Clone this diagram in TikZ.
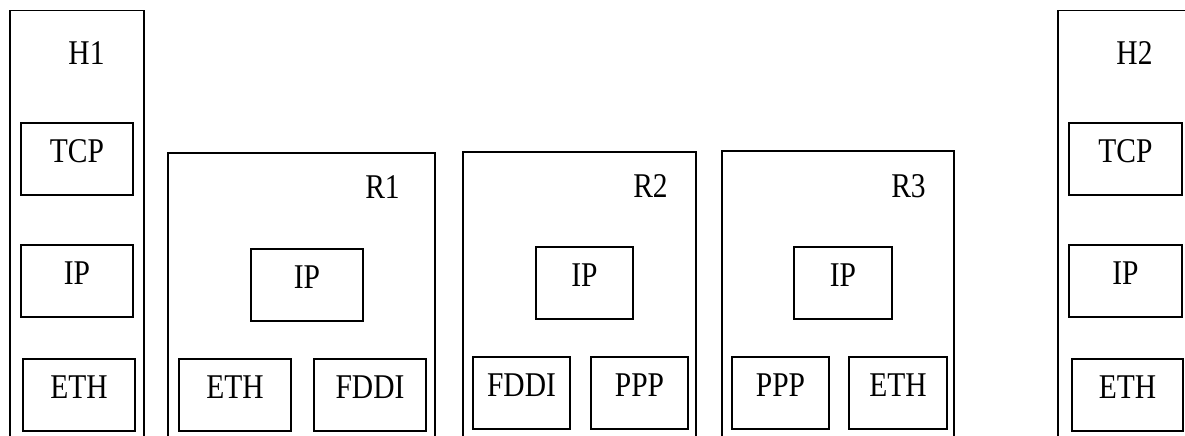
\documentclass[tikz,border=0pt]{standalone}
\usepackage{fontspec}
\newfontfamily\diagfont[FakeStretch=0.85]{Liberation Serif}
\begin{document}
\begin{tikzpicture}[x=1pt,y=-1pt,
  outer/.style={line width=1.4pt},
  box/.style={draw,line width=1.4pt,rectangle,inner sep=0pt,minimum height=72pt,
    text height=23pt,text depth=16pt,font=\diagfont\fontsize{34.7}{40}\selectfont},
  lbl/.style={inner sep=0pt,anchor=base,font=\diagfont\fontsize{34.7}{40}\selectfont}]
\useasboundingbox (0,0) rectangle (1185,436);
\clip (0,0) rectangle (1185,436);
% H1
\coordinate (h1a) at (10,437); \coordinate (h1b) at (10,10.5);
\coordinate (h1c) at (144,10.5); \coordinate (h1d) at (144,437);
\draw[outer] (h1a) -- (h1b) -- (h1c) -- (h1d);
\node[lbl] (h1) at (86.5,65) {H1};
\node[box,minimum width=112pt] (h1tcp) at (77,159) {TCP};
\node[box,minimum width=112pt] (h1ip) at (77,281) {IP};
\node[box,minimum width=112pt] (h1eth) at (79,395) {ETH};
% R1
\coordinate (r1a) at (168,437); \coordinate (r1b) at (168,153);
\coordinate (r1c) at (435,153); \coordinate (r1d) at (435,437);
\draw[outer] (r1a) -- (r1b) -- (r1c) -- (r1d);
\node[lbl] (r1) at (382.5,198) {R1};
\node[box,minimum width=112pt] (r1ip) at (307,285) {IP};
\node[box,minimum width=112pt] (r1eth) at (235,395) {ETH};
\node[box,minimum width=112pt] (r1fddi) at (370,395) {FDDI};
% R2
\coordinate (r2a) at (463,437); \coordinate (r2b) at (463,152);
\coordinate (r2c) at (696,152); \coordinate (r2d) at (696,437);
\draw[outer] (r2a) -- (r2b) -- (r2c) -- (r2d);
\node[lbl] (r2) at (650.5,197) {R2};
\node[box,minimum width=97pt] (r2ip) at (584.5,283) {IP};
\node[box,minimum width=97pt] (r2fddi) at (521.5,393) {FDDI};
\node[box,minimum width=97pt] (r2ppp) at (639.5,393) {PPP};
% R3
\coordinate (r3a) at (722,437); \coordinate (r3b) at (722,151);
\coordinate (r3c) at (954,151); \coordinate (r3d) at (954,437);
\draw[outer] (r3a) -- (r3b) -- (r3c) -- (r3d);
\node[lbl] (r3) at (908.5,197) {R3};
\node[box,minimum width=98pt] (r3ip) at (843,283) {IP};
\node[box,minimum width=97pt] (r3ppp) at (780.5,393) {PPP};
\node[box,minimum width=98pt] (r3eth) at (898,393) {ETH};
% H2
\coordinate (h2a) at (1058,437); \coordinate (h2b) at (1058,10.5);
\coordinate (h2c) at (1195,10.5);
\draw[outer] (h2a) -- (h2b) -- (h2c);
\node[lbl] (h2) at (1134.5,64) {H2};
\node[box,minimum width=113pt] (h2tcp) at (1125.5,159) {TCP};
\node[box,minimum width=113pt] (h2ip) at (1125.5,281) {IP};
\node[box,minimum width=111pt] (h2eth) at (1127.5,395) {ETH};
\end{tikzpicture}
\end{document}
